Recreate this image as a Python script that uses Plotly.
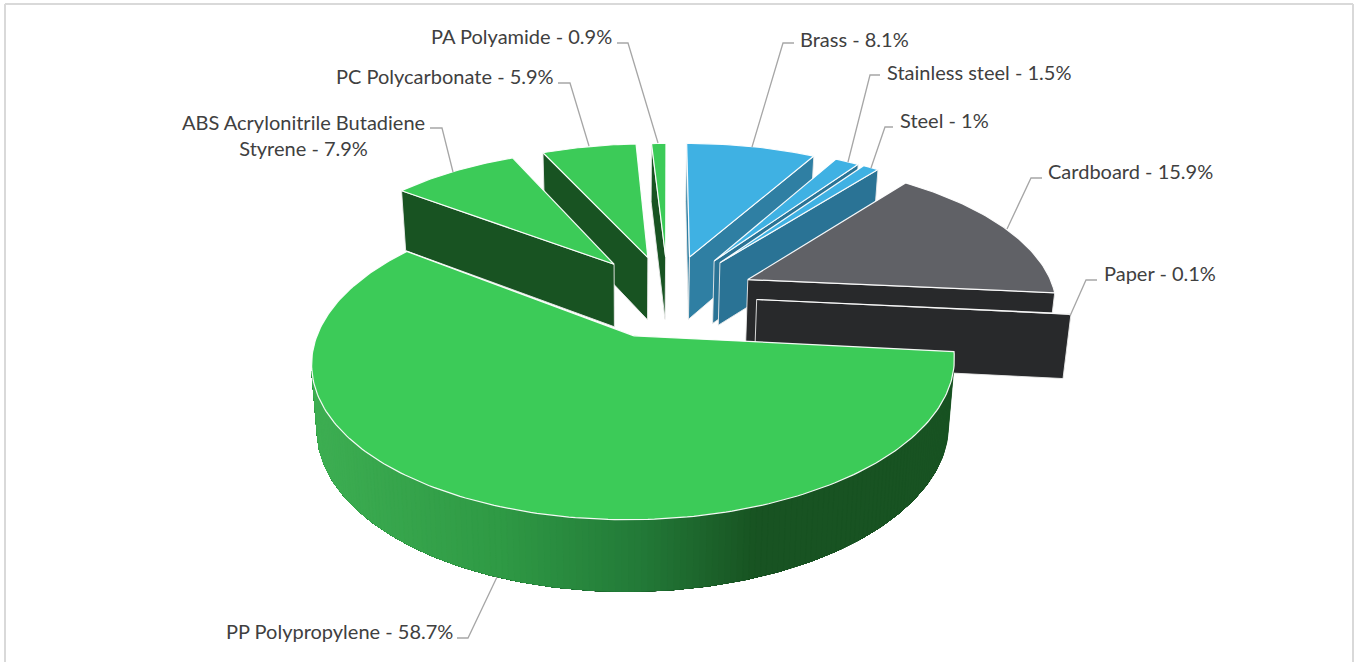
import numpy as np
import plotly.graph_objects as go

# ---- data (clockwise from 12 o'clock) ----
CATEGORIES = ["Brass", "Stainless steel", "Steel", "Cardboard", "Paper",
              "PP Polypropylene", "ABS Acrylonitrile Butadiene Styrene",
              "PC Polycarbonate", "PA Polyamide"]
VALUES = [8.1, 1.5, 1.0, 15.9, 0.1, 58.7, 7.9, 5.9, 0.9]
VALUE_TEXT = ["8.1%", "1.5%", "1%", "15.9%", "0.1%", "58.7%", "7.9%", "5.9%", "0.9%"]

# ---- styles ----
TOP = ["#3FB1E3", "#3FB1E3", "#3FB1E3", "#606166", "#28292B",
       "#3CCB58", "#3CCB58", "#3CCB58", "#3CCB58"]
WALL = ["#2F7FA3", "#2A7395", "#2A7395", "#28292B", "#28292B",
        "#185322", "#185322", "#185322", "#185322"]
EXPLODE = [0.29, 0.295, 0.295, 0.287, 0.288, 0.29, 0.29, 0.285, 0.28]
RADIUS = [1, 1, 1, 1, 1, 0.985, 1, 1, 1]
DRAW_ORDER = [8, 7, 6, 0, 1, 2, 3, 4, 5]
GRAD_STOPS_X = [320, 500, 640, 756]
GRAD_STOPS_C = [(0x3D, 0xAE, 0x52), (0x2F, 0x9A, 0x45), (0x23, 0x7A, 0x38), (0x18, 0x53, 0x22)]

# perspective model of the 3-D pie
CX, CY, RX, RY, K = 668.0, 295.5, 308.0, 143.0, 0.159


def project(u, v, bottom=False):
    d = 1 + K * v
    x = CX + RX * u / d
    y = CY - RY * v / d
    if bottom:
        x = 630 + (x - 630) * 0.982
        y = 1.036 * y + 53
    return x, y


def shoelace(px, py):
    s = 0.0
    n = len(px)
    for i in range(n):
        j = (i + 1) % n
        s += px[i] * py[j] - px[j] * py[i]
    return s


def poly(xs, ys, fill, line=None, width=0.6):
    xs, ys = list(xs), list(ys)
    return go.Scatter(x=xs + [xs[0]], y=ys + [ys[0]], mode="lines", fill="toself",
                      fillcolor=fill, line=dict(color=line or fill, width=width),
                      hoverinfo="skip", showlegend=False)


def grad_color(x):
    rgb = [np.interp(x, GRAD_STOPS_X, [c[i] for c in GRAD_STOPS_C]) for i in range(3)]
    return "rgb(%d,%d,%d)" % tuple(rgb)


fig = go.Figure()
edges = np.cumsum([0] + VALUES) / sum(VALUES) * 2 * np.pi

for i in DRAW_ORDER:
    a0, a1 = edges[i], edges[i + 1]
    mid = (a0 + a1) / 2
    ou, ov = EXPLODE[i] * np.sin(mid), EXPLODE[i] * np.cos(mid)
    steps = max(2, int((a1 - a0) / np.radians(1.0)))
    th = np.linspace(a0, a1, steps + 1)
    U = np.concatenate([[ou], ou + RADIUS[i] * np.sin(th)])
    V = np.concatenate([[ov], ov + RADIUS[i] * np.cos(th)])
    tx, ty = project(U, V)
    bx, by = project(U, V, True)
    n = len(U)
    # radial cut faces first
    for a, b in [(0, 1), (n - 1, 0)]:
        qx = [tx[a], tx[b], bx[b], bx[a]]
        qy = [ty[a], ty[b], by[b], by[a]]
        if shoelace(qx, qy) < 0:
            fig.add_trace(poly(qx, qy, WALL[i], "rgba(235,235,235,0.9)", 1.0))
    # rim: visible runs; each band overlaps all the later ones so no seams appear
    visible = [a for a in range(1, n - 1)
               if shoelace([tx[a], tx[a + 1], bx[a + 1], bx[a]],
                           [ty[a], ty[a + 1], by[a + 1], by[a]]) < 0]
    if visible:
        first, last = visible[0], visible[-1] + 1
        for a in visible:
            rng = range(a, last + 1)
            px = [tx[j] for j in rng] + [bx[j] for j in reversed(rng)]
            py = [ty[j] for j in rng] + [by[j] for j in reversed(rng)]
            if i == 5:
                col = grad_color((tx[a] + tx[a + 1] + bx[a] + bx[a + 1]) / 4)
            else:
                col = WALL[i]
            fig.add_trace(poly(px, py, col, col, 0.3))
            if i != 5:
                break
    fig.add_trace(poly(tx, ty, TOP[i], "rgba(255,255,255,0.95)", 1.2))

# ---- labels and leader lines ----
LABEL_LINES = {
    0: ([794, 783, 752], [43, 43, 147]),
    1: ([880, 870, 848], [75, 75, 162]),
    2: ([893, 885, 871], [127, 127, 168]),
    3: ([1042, 1031, 1007], [178, 178, 229]),
    4: ([1097, 1086, 1070], [280, 280, 316]),
    5: ([457, 468, 497], [638, 638, 577]),
    6: ([430, 442, 453], [128, 128, 172]),
    7: ([558, 570, 589], [83, 83, 146]),
    8: ([617, 628, 658], [43, 43, 143]),
}
LABEL_POS = {
    0: (798, 39, "left"), 1: (885, 72, "left"), 2: (898, 120, "left"),
    3: (1046, 171, "left"), 4: (1102, 273, "left"), 5: (455, 631, "right"),
    7: (556, 76, "right"), 8: (614, 36, "right"),
}
for i, (lx, ly) in LABEL_LINES.items():
    fig.add_trace(go.Scatter(x=lx, y=ly, mode="lines", line=dict(color="#A6A6A6", width=1.3),
                             hoverinfo="skip", showlegend=False))
FONT = dict(family="Lato", size=20, color="#404040")
for i, (x, y, anchor) in LABEL_POS.items():
    fig.add_annotation(x=x, y=y, text=f"{CATEGORIES[i]} - {VALUE_TEXT[i]}", showarrow=False,
                       xanchor=anchor, yanchor="middle", font=FONT)
fig.add_annotation(x=303.5, y=135, text="ABS Acrylonitrile Butadiene<br>Styrene - " + VALUE_TEXT[6],
                   showarrow=False, xanchor="center", yanchor="middle", align="center",
                   font=FONT)

# ---- chart frame ----
for x0, y0, x1, y1 in [(5, 4, 5, 662), (5, 4, 1353, 4), (1353, 4, 1353, 662)]:
    fig.add_shape(type="line", x0=x0, y0=y0, x1=x1, y1=y1, line=dict(color="#D9D9D9", width=2))

fig.update_layout(
    width=1354, height=662, margin=dict(l=0, r=0, t=0, b=0),
    paper_bgcolor="white", plot_bgcolor="white", showlegend=False,
    xaxis=dict(range=[0, 1354], visible=False, fixedrange=True),
    yaxis=dict(range=[662, 0], visible=False, fixedrange=True),
)
fig.write_html("out.html", config=dict(displayModeBar=False),
               post_script="document.body.style.margin='0';")
